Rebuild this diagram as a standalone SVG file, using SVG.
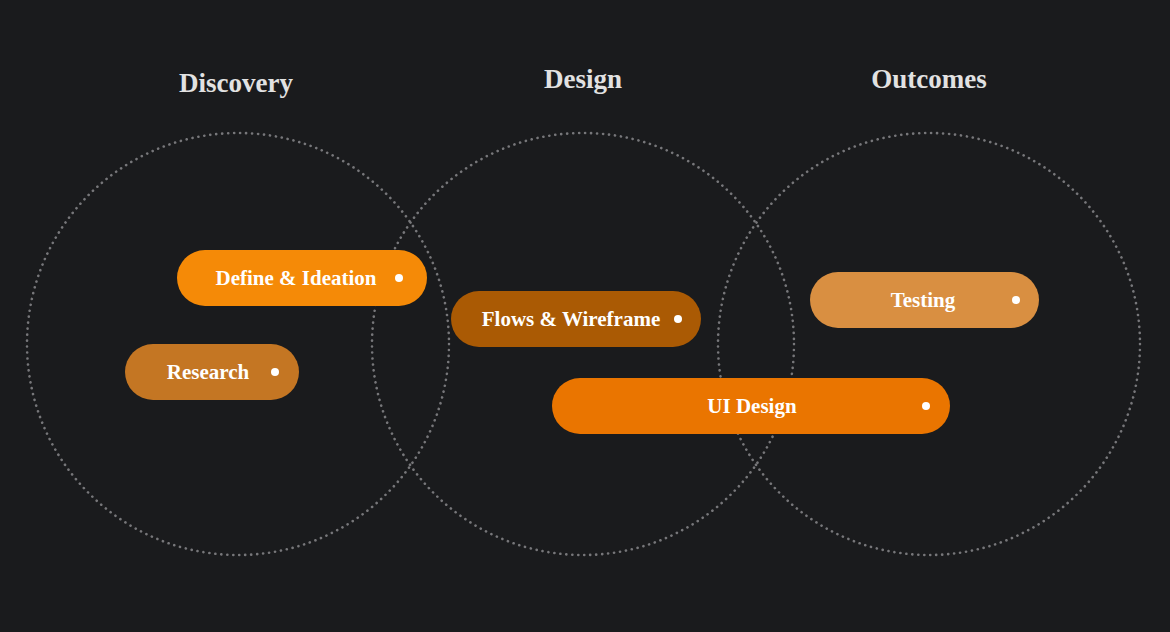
<svg xmlns="http://www.w3.org/2000/svg" width="1170" height="632" viewBox="0 0 1170 632">
  <style>
    .ring { fill: none; stroke: #77777a; stroke-width: 2.6; stroke-dasharray: 0.1 5.9; stroke-linecap: round; }
    .title { font-family: "Liberation Serif", "DejaVu Serif", serif; font-weight: bold; font-size: 27px; fill: #e2e2e2; text-anchor: middle; }
    .label { font-family: "Liberation Serif", "DejaVu Serif", serif; font-weight: bold; font-size: 21px; fill: #ffffff; text-anchor: middle; }
    .dot { fill: #ffffff; }
  </style>
  <rect width="1170" height="632" fill="#1a1b1d"/>

  <!-- phase circles -->
  <g id="circles">
    <circle class="ring" cx="238" cy="344" r="211"/>
    <circle class="ring" cx="583" cy="344" r="211"/>
    <circle class="ring" cx="929" cy="344" r="211"/>
  </g>

  <!-- phase titles -->
  <g id="titles">
    <text class="title" x="236" y="92">Discovery</text>
    <text class="title" x="583" y="88">Design</text>
    <text class="title" x="929" y="88">Outcomes</text>
  </g>

  <g id="define-ideation">
    <rect x="177" y="250" width="250" height="56" rx="28" fill="#f58a07"/>
    <text class="label" x="296" y="285">Define &amp; Ideation</text>
    <circle class="dot" cx="399" cy="278" r="4"/>
  </g>

  <g id="research">
    <rect x="125" y="344" width="174" height="56" rx="28" fill="#c47623"/>
    <text class="label" x="208" y="379">Research</text>
    <circle class="dot" cx="275" cy="372" r="4"/>
  </g>

  <g id="flows-wireframe">
    <rect x="451" y="291" width="250" height="56" rx="28" fill="#aa5a04"/>
    <text class="label" x="571" y="326">Flows &amp; Wireframe</text>
    <circle class="dot" cx="678" cy="319" r="4"/>
  </g>

  <g id="ui-design">
    <rect x="552" y="378" width="398" height="56" rx="28" fill="#ea7500"/>
    <text class="label" x="752" y="413">UI Design</text>
    <circle class="dot" cx="926" cy="406" r="4"/>
  </g>

  <g id="testing">
    <rect x="810" y="272" width="229" height="56" rx="28" fill="#d98f41"/>
    <text class="label" x="923" y="307">Testing</text>
    <circle class="dot" cx="1016" cy="300" r="4"/>
  </g>
</svg>
